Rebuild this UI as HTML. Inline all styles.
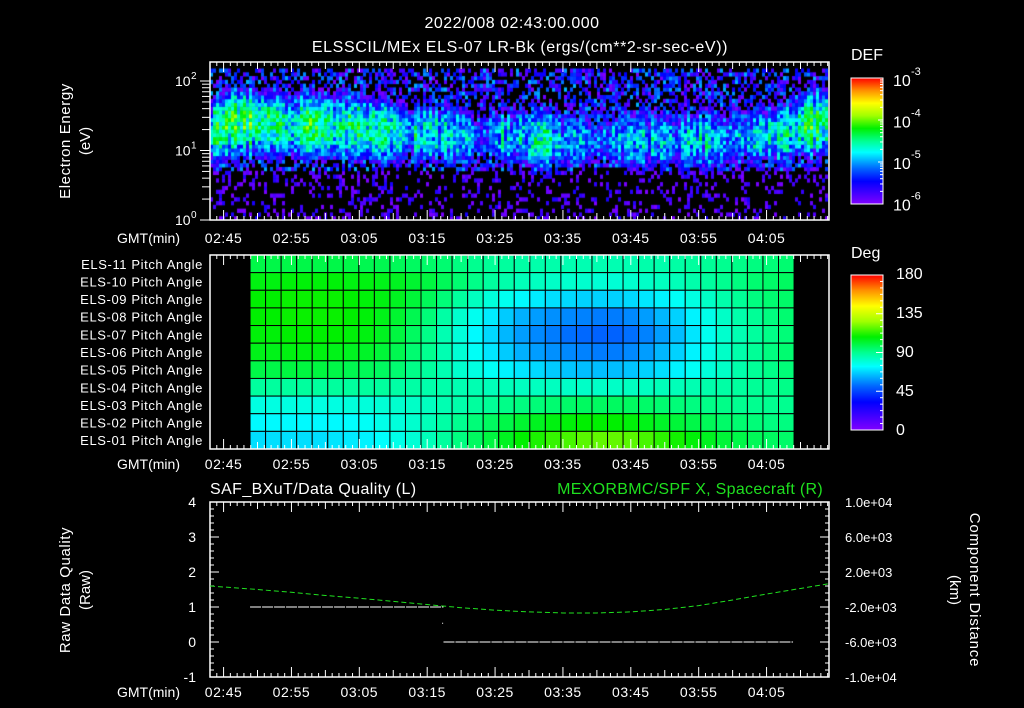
<!DOCTYPE html>
<html><head><meta charset="utf-8">
<style>
html,body{margin:0;padding:0;background:#000;}
#wrap{position:relative;width:1024px;height:708px;overflow:hidden;background:#000;}
svg{position:absolute;left:0;top:0;}
canvas{position:absolute;left:210px;top:62px;}
text{font-family:"Liberation Sans",sans-serif;fill:#fff;}
</style></head>
<body>
<div id="wrap">
<canvas id="spec" width="618" height="158"></canvas>
<svg id="svg" width="1024" height="708" xmlns="http://www.w3.org/2000/svg"></svg>
</div>
<script>
// ---------- DATA ----------
const tickLabels = ["02:45","02:55","03:05","03:15","03:25","03:35","03:45","03:55","04:05"];
const tickTimes = [2,12,22,32,42,52,62,72,82];
const specTimes = [0,3,7,12,20,25,30,35,40,45,50,55,60,65,70,75,80,85,88,91];
const specPeak  = [-4.35,-4.0,-4.0,-4.1,-4.15,-4.25,-4.45,-4.55,-4.7,-4.55,-4.5,-4.7,-4.7,-4.55,-4.6,-4.55,-4.5,-4.35,-4.0,-3.95];
const specCenter= [1.25,1.4,1.4,1.35,1.35,1.3,1.25,1.25,1.2,1.2,1.15,1.15,1.15,1.15,1.15,1.15,1.2,1.25,1.4,1.4];
const pitchRowNames = ["ELS-11","ELS-10","ELS-09","ELS-08","ELS-07","ELS-06","ELS-05","ELS-04","ELS-03","ELS-02","ELS-01"];
const pitch11=[99,99,99,99,99,99,99,98,98,97,96,95,94,92,90,89,88,87,86,86,85,85,85,85,85,86,86,87,88,89,90,91,92,93,94];
const pitch10=[106,106,107,107,107,107,106,106,105,104,102,100,97,94,91,88,86,84,83,82,81,81,80,80,81,82,83,84,86,88,90,92,94,95,96];
const pitch09=[108,108,109,109,109,109,108,107,106,104,101,97,93,88,83,79,76,73,71,69,68,67,67,67,68,70,72,75,78,82,86,89,92,94,95];
const pitch08=[108,108,109,109,109,109,108,107,105,102,98,93,87,81,76,71,66,62,59,57,56,55,54,54,56,59,63,67,72,77,82,86,89,92,94];
const pitch07=[107,107,108,108,108,108,107,106,104,100,96,91,85,79,73,68,63,59,56,54,52,51,50,50,52,55,59,64,70,76,81,85,88,91,93];
const pitch06=[105,105,106,106,106,105,104,103,101,98,94,90,85,80,75,70,66,62,59,57,56,55,54,54,56,59,63,67,72,77,82,86,89,92,94];
const pitch05=[99,99,100,100,100,99,98,97,96,94,91,88,85,81,78,75,72,70,68,66,65,64,64,64,65,67,69,72,75,79,82,86,89,91,93];
const pitch04=[88,88,88,88,88,88,88,88,88,87,87,86,86,85,85,84,84,83,83,83,82,82,82,82,83,83,84,84,85,86,87,88,89,90,91];
const pitch03=[78,78,78,78,78,78,79,79,80,81,82,83,85,86,88,89,91,92,93,94,95,96,96,96,96,95,94,93,92,91,91,90,90,90,90];
const pitch02=[73,73,73,73,73,73,74,75,77,79,81,84,87,90,93,96,99,102,104,106,107,108,108,108,107,105,103,101,99,97,95,94,93,92,92];
const pitch01=[69,69,69,69,69,70,71,72,74,77,80,84,88,92,96,100,104,108,111,114,116,118,119,119,118,116,113,110,107,104,101,99,97,96,95];
const pitchGrid=[pitch11,pitch10,pitch09,pitch08,pitch07,pitch06,pitch05,pitch04,pitch03,pitch02,pitch01];
const pitchColStart = 5.9, pitchColWidth = 2.29;
const qualStart=[5.9,34.4];
const qualEnd=[34.4,85.9];
const qualValue=[1,0];
const scTimes=[0,7,12,17,22,27,32,37,42,47,52,57,62,67,72,77,82,87,91];
const scX=[400,0,-320,-680,-1000,-1360,-1720,-2080,-2360,-2560,-2680,-2680,-2560,-2280,-1840,-1200,-520,120,640];
const rightTickLabels=["1.0e+04","6.0e+03","2.0e+03","-2.0e+03","-6.0e+03","-1.0e+04"];
const rightTickValues=[10000,6000,2000,-2000,-6000,-10000];
const leftTickValues=[4,3,2,1,0,-1];

// ---------- AXES ----------
const X0=210,X1=829,TMAX=91.2;
const xT=t=>X0+t*(X1-X0)/TMAX;
const yE=l=>220-l*69.5;
const yQ=v=>502+(4-v)*35;
const yKm=k=>502+(10000-k)/20000*175;
const colStops=[[0,[128,0,255]],[0.18,[0,0,255]],[0.28,[0,100,255]],[0.41,[0,255,255]],[0.5,[0,255,144]],[0.6,[0,240,0]],[0.7,[160,255,0]],[0.8,[255,255,0]],[0.9,[255,144,0]],[1,[255,0,0]]];
function cmap(f){f=Math.max(0,Math.min(1,f));for(let i=1;i<colStops.length;i++){if(f<=colStops[i][0]){const a=colStops[i-1],b=colStops[i];const u=(f-a[0])/(b[0]-a[0]);return [0,1,2].map(k=>Math.round(a[1][k]+u*(b[1][k]-a[1][k])));}}return colStops[colStops.length-1][1];}
const rgb=c=>`rgb(${c[0]},${c[1]},${c[2]})`;
function interp(xs,ys,x){if(x<=xs[0])return ys[0];for(let i=1;i<xs.length;i++)if(x<=xs[i]){const u=(x-xs[i-1])/(xs[i]-xs[i-1]);return ys[i-1]+u*(ys[i]-ys[i-1]);}return ys[ys.length-1];}
function tex(i,j){let h=(i*374761393+j*668265263)>>>0;h=((h^(h>>>13))*1274126177)>>>0;return ((h^(h>>>16))%10000)/10000;}

// ---------- SPECTROGRAM ----------
(function(){
 const c=document.getElementById('spec').getContext('2d');
 const cw=3, nb=40, lmax=2.18;
 for(let i=0;i*cw<618;i++){
  const t=(i*cw+1.5)/(X1-X0)*TMAX;
  const pk=interp(specTimes,specPeak,t), ce=interp(specTimes,specCenter,t);
  const colv=(tex(i,999)-0.5)*0.35;
  for(let j=0;j<nb;j++){
   const l0=j*lmax/nb, l1=(j+1)*lmax/nb, lm=(l0+l1)/2;
   const n=tex(i,j);
   const d=(lm-ce)/0.45;
   let band=pk-1.0*d*d+colv+(n-0.5)*0.45;
   let bg=(lm<0.7?-6.05:-5.45)+(n-0.5)*1.0;
   let v=Math.max(band,bg);
   if(v<-6) continue;
   c.fillStyle=rgb(cmap((v+6)/3));
   const ya=yE(l1)-62, yb=yE(l0)-62;
   c.fillRect(i*cw,ya,cw,yb-ya+0.5);
  }
 }
})();

// ---------- SVG ----------
const svg=document.getElementById('svg');
const NS='http://www.w3.org/2000/svg';
function el(tag,attrs,parent){const e=document.createElementNS(NS,tag);for(const k in attrs)e.setAttribute(k,attrs[k]);(parent||svg).appendChild(e);return e;}
function txt(s,x,y,attrs,parent){const e=el('text',Object.assign({x:x,y:y,'font-size':14},attrs||{}),parent);e.textContent=s;return e;}

let e=txt("2022/008 02:43:00.000",512,28,{'text-anchor':'middle','font-size':16,'letter-spacing':'0.5'});


e=txt("ELSSCIL/MEx ELS-07 LR-Bk  (ergs/(cm**2-sr-sec-eV))",520,52,{'text-anchor':'middle','font-size':16,'letter-spacing':'0.6','xml:space':'preserve'});



function timeTicks(y0,y1,g){
 for(let m=0;m<=91;m++){
  const x=xT(m); const mm=(m+43)%10; const L=(mm===5)?10:((mm===0)?7:4);
  el('line',{x1:x,x2:x,y1:y0,y2:y0+L,stroke:'#fff','stroke-width':1},g);
  el('line',{x1:x,x2:x,y1:y1,y2:y1-L,stroke:'#fff','stroke-width':1},g);
 }
}
function timeLabels(y,name){
 const g=el('g',{});
 
 
 txt("GMT(min)",180,y,{'text-anchor':'end'},g);
 tickLabels.forEach((s,i)=>txt(s,xT(tickTimes[i]),y,{'text-anchor':'middle','letter-spacing':'0.5'},g));
}

let g=el('g',{});


el('rect',{x:210,y:62,width:619,height:158,fill:'none',stroke:'#fff','stroke-width':1.5},g);
timeTicks(62,220,g);
for(let d=0;d<3;d++)for(let k=1;k<10;k++){const l=d+Math.log10(k);if(l>2.27)break;const y=yE(l);el('line',{x1:202,x2:210,y1:y,y2:y,stroke:'#fff'},g);}
[0,1,2].forEach(d=>{const y=yE(d);el('line',{x1:200,x2:210,y1:y,y2:y,stroke:'#fff'},g);txt('10',175,y+5,{'font-size':14},g);txt(String(d),191,y-2,{'font-size':10},g);});
timeLabels(243,'spectrogram-time-axis');
e=txt("Electron Energy",0,0,{'text-anchor':'middle','font-size':15,'letter-spacing':'0.6',transform:'translate(70,141) rotate(-90)'});


txt("(eV)",0,0,{'text-anchor':'middle','font-size':15,transform:'translate(90,141) rotate(-90)'});

function colorbar(x,y,w,h,name){
 const gg=el('g',{});
 
 
 for(let i=0;i<h;i++){const f=1-(i+0.5)/h;el('rect',{x:x,y:y+i,width:w,height:1.2,fill:rgb(cmap(f))},gg);}
 el('rect',{x:x,y:y,width:w,height:h,fill:'none',stroke:'#fff','stroke-width':1},gg);
 return gg;
}
let cb=colorbar(851,78,32,126,'def-colorbar');
for(let d=0;d<3;d++)for(let k=1;k<10;k++){const y=204-(d+Math.log10(k))*42;el('line',{x1:883,x2:k===1?878:880,y1:y,y2:y,stroke:'#fff'},cb);}
txt("DEF",851,60,{'font-size':16},cb);
["-3","-4","-5","-6"].forEach((s,i)=>{const y=79+i*41.5;txt('10',893,y+7,{'font-size':16},cb);txt(s,911,y-4,{'font-size':11},cb);});

let cb2=colorbar(851,275,32,155,'pitch-colorbar');
for(let v=0;v<=180;v+=7.5){const y=430-v/180*155;el('line',{x1:883,x2:(v%45===0)?876:880,y1:y,y2:y,stroke:'#fff'},cb2);}
txt("Deg",851,258,{'font-size':16},cb2);
["180","135","90","45","0"].forEach((s,i)=>txt(s,896,279+i*39,{'font-size':16},cb2));

const pg=el('g',{});


const PY0=255,PY1=449,rh=(PY1-PY0)/pitchGrid.length;
pitchGrid.forEach((row,r)=>{
 row.forEach((v,c)=>{
  const xa=xT(pitchColStart+c*pitchColWidth), xb=xT(pitchColStart+(c+1)*pitchColWidth);
  const cell=el('rect',{x:xa,y:PY0+r*rh,width:xb-xa,height:rh,fill:rgb(cmap(v/180)),stroke:'#000','stroke-width':1},pg);
  
  
 });
});
g=el('g',{});


el('rect',{x:210,y:255,width:619,height:194,fill:'none',stroke:'#fff','stroke-width':1.5},g);
timeTicks(255,449,g);
pitchRowNames.forEach((n,r)=>{txt(n+" Pitch Angle",203,PY0+r*rh+rh/2+5,{'text-anchor':'end','font-size':13,'letter-spacing':'0.6'},g);});
timeLabels(469,'pitch-time-axis');

g=el('g',{});


el('rect',{x:210,y:502,width:619,height:175,fill:'none',stroke:'#fff','stroke-width':1.5},g);
timeTicks(502,677,g);
for(let v=-1;v<=4.001;v+=0.2){const y=yQ(v);const maj=Math.abs(v-Math.round(v))<0.01;el('line',{x1:210,x2:maj?219:214,y1:y,y2:y,stroke:'#fff'},g);}
leftTickValues.forEach(v=>txt(String(v),196,yQ(v)+5,{'text-anchor':'end','font-size':14},g));
for(let k=-10000;k<=10000;k+=800){const y=yKm(k);const maj=(k+10000)%4000===0;el('line',{x1:829,x2:maj?820:825,y1:y,y2:y,stroke:'#fff'},g);}
rightTickValues.forEach((v,i)=>txt(rightTickLabels[i],845,yKm(v)+5,{'font-size':13},g));
timeLabels(697,'quality-time-axis');
e=txt("SAF_BXuT/Data Quality (L)",210,494,{'font-size':16,'letter-spacing':'0.4'});


e=txt("MEXORBMC/SPF X, Spacecraft (R)",823,494,{'font-size':16,'letter-spacing':'0.3','text-anchor':'end',style:'fill:#1fe01f'});


e=txt("Raw Data Quality",0,0,{'text-anchor':'middle','font-size':15,'letter-spacing':'0.6',transform:'translate(70,590) rotate(-90)'});


txt("(Raw)",0,0,{'text-anchor':'middle','font-size':15,transform:'translate(90,590) rotate(-90)'});
e=txt("Component Distance",0,0,{'text-anchor':'middle','font-size':15,'letter-spacing':'0.8',transform:'translate(970,590) rotate(90)'});


txt("(km)",0,0,{'text-anchor':'middle','font-size':15,transform:'translate(950,590) rotate(90)'});

qualStart.forEach((s,i)=>{
 const ln=el('line',{x1:xT(s),x2:xT(qualEnd[i]),y1:yQ(qualValue[i]),y2:yQ(qualValue[i]),stroke:'#fff','stroke-width':1,'stroke-dasharray':'11,1'});
 
 
});
el('rect',{x:xT(34.2),y:yQ(0.55),width:1,height:1,fill:'#fff'});
const pts=scTimes.map((t,i)=>xT(t)+','+yKm(scX[i])).join(' ');
const pl=el('polyline',{points:pts,fill:'none',stroke:'#1fe01f','stroke-width':1,'stroke-dasharray':'5,3'});


</script>
</body></html>
